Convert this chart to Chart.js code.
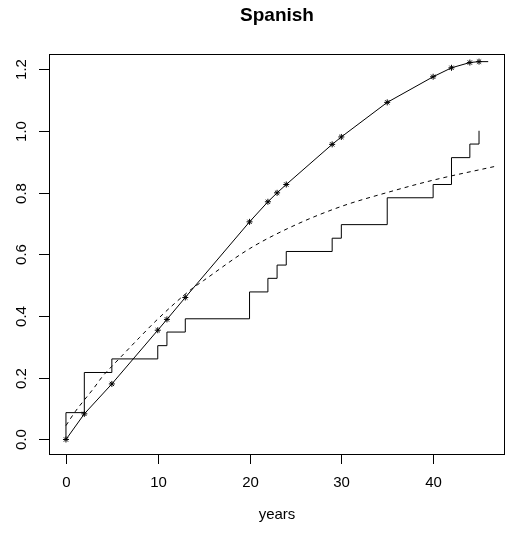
<!DOCTYPE html>
<html>
<head>
<meta charset="utf-8">
<script src="https://cdn.jsdelivr.net/npm/chart.js@4.4.1/dist/chart.umd.min.js"></script>
<style>
  body { margin: 0; background: #fff; }
  canvas { display: block; }
</style>
</head>
<body>
<canvas id="chart" width="510" height="540"></canvas>
<script>
const xTicks = [0, 10, 20, 30, 40];
const yTicks = [0, 0.2, 0.4, 0.6, 0.8, 1.0, 1.2];
const yTickLabels = ['0.0', '0.2', '0.4', '0.6', '0.8', '1.0', '1.2'];

// empirical step curve
const stepYears = [0, 0, 2, 5, 10, 11, 13, 20, 22, 23, 24, 29, 30, 35, 40, 42, 44, 45];
const stepValues = [0, 0.087, 0.217, 0.261, 0.304, 0.348, 0.391, 0.478, 0.522, 0.565, 0.609, 0.652, 0.696, 0.783, 0.826, 0.913, 0.957, 1.0];

// line with star markers
const starYears = [0, 2, 5, 10, 11, 13, 20, 22, 23, 24, 29, 30, 35, 40, 42, 44, 45, 46];
const starValues = [0, 0.083, 0.18, 0.354, 0.389, 0.46, 0.705, 0.77, 0.799, 0.826, 0.956, 0.98, 1.092, 1.175, 1.204, 1.221, 1.224, 1.224];

// fitted dashed curve
const curveYears = [0, 1, 2, 3, 4, 5, 6, 8, 10, 13.5, 15, 20, 25, 30, 35, 40, 46.8];
const curveValues = [0.045, 0.09, 0.128, 0.165, 0.205, 0.237, 0.268, 0.33, 0.39, 0.483, 0.515, 0.618, 0.695, 0.755, 0.80, 0.84, 0.885];

const title = 'Spanish';
const xTitle = 'years';

function pts(xs, ys) {
    return xs.map((x, i) => ({ x: x, y: ys[i] }));
}

const font = '"Liberation Sans", Arial, sans-serif';

const axesPlugin = {
    id: 'rAxes',
    afterDraw(chart) {
        const ctx = chart.ctx;
        const a = chart.chartArea;
        const xs = chart.scales.x;
        const ys = chart.scales.y;
        ctx.save();
        ctx.strokeStyle = '#000';
        ctx.lineWidth = 1;
        ctx.strokeRect(a.left + 0.5, a.top + 0.5, a.right - a.left - 1, a.bottom - a.top);

        ctx.fillStyle = '#000';
        ctx.font = '15px ' + font;
        ctx.textAlign = 'center';
        ctx.textBaseline = 'middle';
        xTicks.forEach(v => {
            const px = Math.round(xs.getPixelForValue(v)) + 0.5;
            ctx.beginPath();
            ctx.moveTo(px, a.bottom);
            ctx.lineTo(px, a.bottom + 10);
            ctx.stroke();
            ctx.fillText(String(v), px, 483);
        });
        yTicks.forEach((v, i) => {
            const py = Math.round(ys.getPixelForValue(v)) + 0.5;
            ctx.beginPath();
            ctx.moveTo(a.left, py);
            ctx.lineTo(a.left - 10, py);
            ctx.stroke();
            ctx.save();
            ctx.translate(22, py);
            ctx.rotate(-Math.PI / 2);
            ctx.fillText(yTickLabels[i], 0, 0);
            ctx.restore();
        });

        ctx.fillText(xTitle, (a.left + a.right) / 2, 515);
        ctx.font = 'bold 19px ' + font;
        ctx.textBaseline = 'alphabetic';
        ctx.fillText(title, (a.left + a.right) / 2, 21);
        ctx.restore();
    }
};

new Chart('chart', {
    type: 'line',
    data: {
        datasets: [
            {
                label: 'steps',
                data: pts(stepYears, stepValues),
                stepped: true,
                borderColor: '#000',
                borderWidth: 1,
                pointRadius: 0,
                fill: false
            },
            {
                label: 'stars',
                data: pts(starYears, starValues),
                borderColor: '#000',
                borderWidth: 1,
                pointStyle: 'star',
                pointRadius: starYears.map((x, i) => i === starYears.length - 1 ? 0 : 3),
                pointBorderColor: '#000',
                pointBorderWidth: 1,
                lineTension: 0,
                fill: false
            },
            {
                label: 'curve',
                data: pts(curveYears, curveValues),
                borderColor: '#000',
                borderWidth: 1,
                borderDash: [4, 4],
                pointRadius: 0,
                cubicInterpolationMode: 'monotone',
                fill: false
            }
        ]
    },
    options: {
        responsive: false,
        animation: false,
        layout: {
            padding: { left: 49, right: 4, top: 54, bottom: 86 }
        },
        plugins: {
            legend: { display: false },
            tooltip: { enabled: false }
        },
        scales: {
            x: { type: 'linear', min: -1.848, max: 47.83, display: false },
            y: { type: 'linear', min: -0.047, max: 1.2487, display: false }
        }
    },
    plugins: [axesPlugin]
});
</script>
</body>
</html>
